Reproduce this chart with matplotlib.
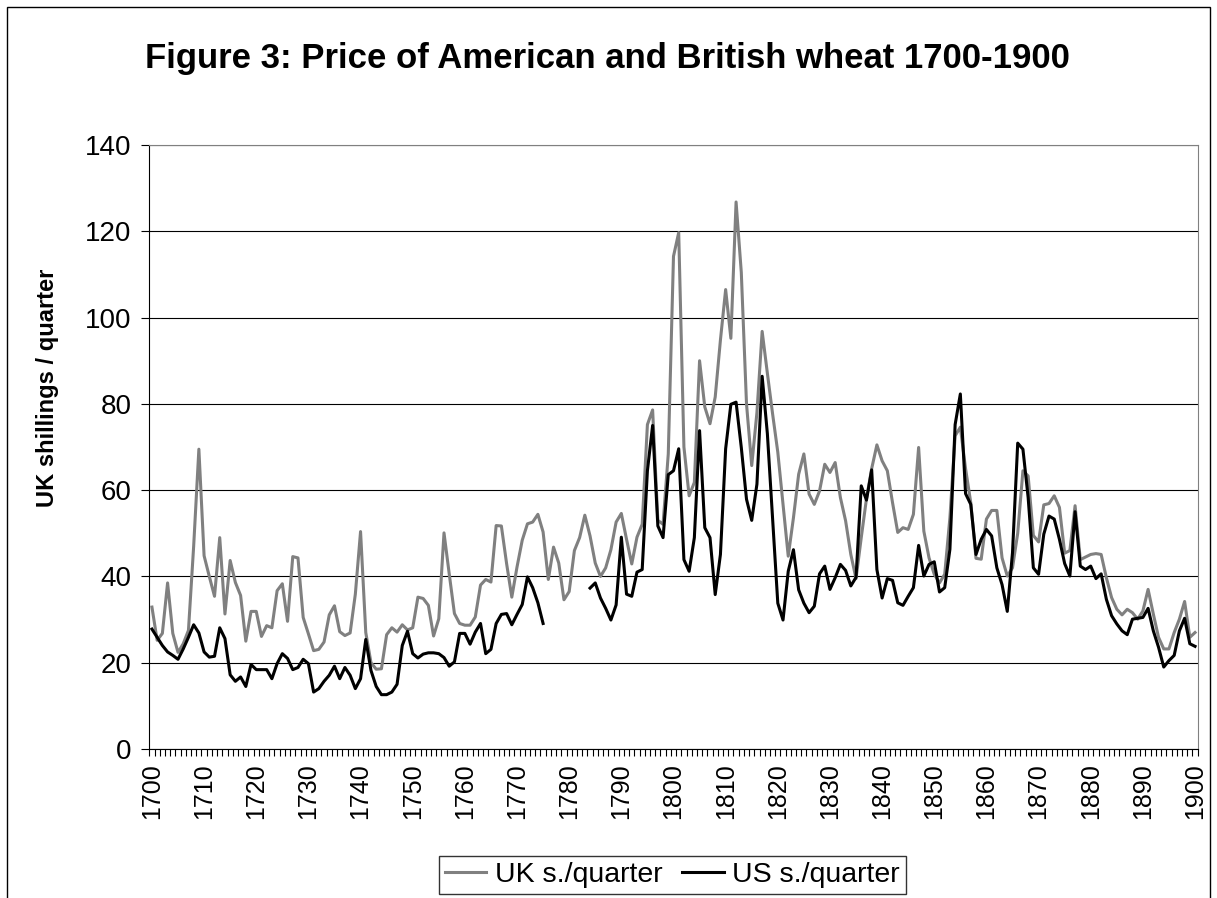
# Price of American and British wheat 1700-1900
import numpy as np
from matplotlib import pyplot as plt
from matplotlib.patches import Rectangle

years = np.arange(1700, 1901)

# UK s./quarter, one value per year
uk = [32.9, 25.2, 26.8, 38.5, 26.8, 22.4, 24.4, 27.5, 47.0, 69.5,
      44.8, 40.0, 35.4, 49.0, 31.3, 43.7, 38.6, 35.6, 25.0, 31.9,
      31.9, 26.1, 28.6, 28.1, 36.7, 38.3, 29.6, 44.6, 44.3, 30.5,
      26.7, 22.8, 23.1, 24.8, 31.1, 33.2, 27.2, 26.3, 26.9, 35.9,
      50.4, 27.0, 20.0, 18.5, 18.6, 26.5, 28.1, 27.1, 28.8, 27.6,
      28.1, 35.2, 34.9, 33.3, 26.2, 30.2, 50.1, 40.6, 31.4, 29.1,
      28.7, 28.7, 30.6, 38.0, 39.3, 38.7, 51.8, 51.7, 43.0, 35.2,
      42.2, 48.4, 52.2, 52.6, 54.4, 50.3, 39.3, 46.8, 43.1, 34.6,
      36.5, 46.0, 49.0, 54.2, 49.4, 43.1, 40.0, 42.0, 46.2, 52.6,
      54.6, 48.6, 42.9, 49.1, 52.1, 75.2, 78.6, 53.0, 52.1, 68.4,
      114.2, 119.7, 70.0, 58.7, 61.8, 90.0, 79.3, 75.4, 81.6, 94.8,
      106.5, 95.2, 126.8, 110.5, 80.0, 65.7, 78.0, 96.8, 87.1, 77.7,
      68.8, 56.7, 44.7, 53.6, 63.7, 68.4, 59.1, 56.7, 59.8, 66.0,
      64.1, 66.4, 58.3, 52.9, 45.1, 39.5, 49.0, 58.0, 65.0, 70.5,
      66.8, 64.5, 57.1, 50.2, 51.3, 50.9, 54.4, 69.9, 50.5, 44.3,
      40.5, 38.5, 40.5, 53.6, 72.6, 74.6, 65.0, 57.1, 44.2, 44.0,
      53.3, 55.3, 55.3, 44.3, 40.1, 42.0, 50.0, 64.5, 63.3, 49.5,
      48.0, 56.6, 56.9, 58.7, 56.0, 45.4, 46.0, 56.4, 43.9, 44.5,
      45.1, 45.3, 45.1, 39.7, 35.1, 32.4, 31.1, 32.4, 31.6, 30.1,
      32.0, 37.0, 31.3, 25.9, 23.2, 23.2, 27.0, 30.1, 34.2, 25.9,
      27.0]

# US s./quarter, no data 1776-1783
nan = np.nan
us = [27.8, 25.9, 24.0, 22.5, 21.7, 20.8, 23.2, 25.9, 28.8, 26.9,
      22.5, 21.3, 21.5, 28.1, 25.6, 17.2, 15.7, 16.7, 14.5, 19.6,
      18.4, 18.4, 18.4, 16.3, 19.8, 22.1, 21.0, 18.4, 18.9, 20.8,
      19.8, 13.2, 14.0, 15.7, 17.1, 19.2, 16.3, 18.9, 17.1, 14.0,
      16.3, 25.4, 18.2, 14.5, 12.6, 12.6, 13.2, 15.0, 24.0, 27.3,
      22.1, 21.1, 22.0, 22.3, 22.3, 22.1, 21.2, 19.2, 20.2, 26.8,
      26.8, 24.3, 27.1, 29.1, 22.1, 23.1, 29.1, 31.2, 31.4, 28.8,
      31.2, 33.5, 39.9, 37.4, 33.9, 29.1, nan, nan, nan, nan,
      nan, nan, nan, nan, 37.3, 38.5, 35.0, 32.6, 29.9, 33.4,
      49.1, 35.9, 35.4, 41.0, 41.6, 64.5, 75.0, 51.7, 49.0, 63.6,
      64.5, 69.6, 43.9, 41.2, 49.0, 73.8, 51.3, 49.0, 35.8, 45.1,
      69.6, 79.9, 80.4, 69.9, 57.9, 53.0, 61.4, 86.4, 73.1, 53.6,
      33.8, 29.9, 41.2, 46.2, 36.9, 33.8, 31.6, 33.1, 40.6, 42.4,
      37.0, 39.7, 42.8, 41.4, 37.8, 39.8, 61.0, 57.7, 64.7, 41.6,
      35.0, 39.5, 39.1, 33.9, 33.3, 35.4, 37.4, 47.2, 40.1, 42.8,
      43.4, 36.4, 37.4, 46.3, 75.2, 82.3, 59.2, 56.7, 45.1, 48.6,
      50.9, 49.4, 42.0, 38.1, 31.9, 45.5, 70.9, 69.5, 58.3, 42.0,
      40.5, 49.8, 54.0, 53.3, 48.6, 43.0, 40.1, 55.0, 42.4, 41.6,
      42.4, 39.5, 40.6, 34.7, 30.9, 29.0, 27.4, 26.5, 30.1, 30.3,
      30.5, 32.6, 27.4, 23.6, 19.0, 20.5, 21.7, 27.4, 30.3, 24.4,
      23.8]

plt.rcParams['font.family'] = ['Liberation Sans', 'DejaVu Sans']

fig = plt.figure(figsize=(12.17, 8.98), dpi=100)
ax = fig.add_axes([0.1227, 0.1659, 0.8614, 0.6726])

ax.plot(years, uk, color='#808080', lw=2.2, label='UK s./quarter')
ax.plot(years, us, color='black', lw=2.2, label='US s./quarter')

ax.set_xlim(1699.5, 1900.5)
ax.set_ylim(0, 140)
ax.set_yticks(range(0, 141, 20))
ax.yaxis.grid(True, color='black', lw=0.8)
ax.set_axisbelow(True)

ax.set_xticks(range(1700, 1901, 10))
ax.set_xticks(np.arange(1699.5, 1901, 1), minor=True)
ax.tick_params(axis='x', which='major', length=0, pad=10, labelsize=18, labelrotation=90)
ax.tick_params(axis='x', which='minor', length=5, width=0.8, direction='out')
ax.tick_params(axis='y', length=6, width=0.8, pad=7, labelsize=20)

for side in ['top', 'right']:
    ax.spines[side].set_color('#808080')
ax.spines['left'].set_color('black')
ax.spines['bottom'].set_color('black')

fig.text(0.4988, 0.935, 'Figure 3: Price of American and British wheat 1700-1900',
         ha='center', va='center', fontsize=25, fontweight='bold')
fig.text(0.0394, 0.5685, 'UK shillings / quarter', rotation=90,
         ha='center', va='center', fontsize=17, fontweight='bold')

leg = fig.legend(loc='center', bbox_to_anchor=(0.5526, 0.0256), ncol=2,
                 fontsize=20.5, frameon=True, fancybox=False, borderpad=0.2,
                 handlelength=1.45, handletextpad=0.3, columnspacing=0.7)
leg.get_frame().set_edgecolor('black')
leg.get_frame().set_linewidth(1.0)

# chart area border, bottom edge falls outside the picture
fig.patches.append(Rectangle((7 / 1217, -0.05), 1203 / 1217, 1.05 - 7 / 898,
                             transform=fig.transFigure, fill=False,
                             edgecolor='black', lw=1.0))

fig.savefig('out.png', dpi=100)
